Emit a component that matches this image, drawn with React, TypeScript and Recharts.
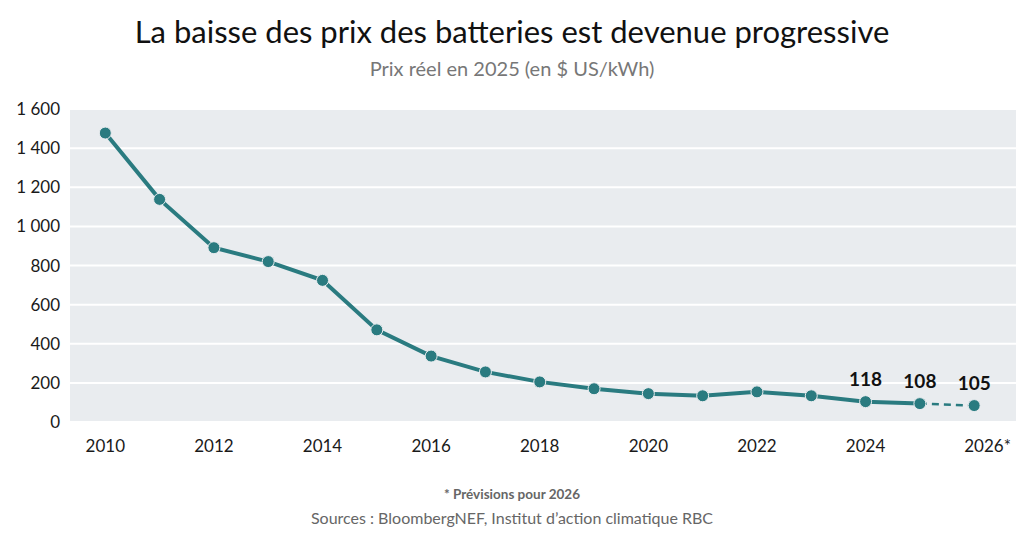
import { LineChart, Line, XAxis, YAxis, CartesianGrid, LabelList } from 'recharts';

const years = [2010, 2011, 2012, 2013, 2014, 2015, 2016, 2017, 2018, 2019, 2020, 2021, 2022, 2023, 2024, 2025, 2026];
// prix réel en $ US/kWh (2026 = prévision)
const prices = [1477, 1138, 891, 820, 724, 471, 337, 256, 205, 170, 145, 134, 154, 134, 104, 94, 84];
const forecastYear = 2026;
const pointLabels: Record<number, string> = { 2024: '118', 2025: '108', 2026: '105' };
const xTicks = [2010, 2012, 2014, 2016, 2018, 2020, 2022, 2024, 2026];
const yTicks = [0, 200, 400, 600, 800, 1000, 1200, 1400, 1600];

const TEAL = '#2a7b80';
const FONT = 'Lato, "Open Sans", sans-serif';

const data = years.map((year, i) => ({
  year,
  actual: year < forecastYear ? prices[i] : null,
  forecast: year >= forecastYear - 1 ? prices[i] : null,
  labelActual: year < forecastYear ? pointLabels[year] ?? '' : '',
  labelForecast: year === forecastYear ? pointLabels[year] ?? '' : '',
}));

const fmtThousands = (v: number) => (v >= 1000 ? `${Math.floor(v / 1000)} ${String(v % 1000).padStart(3, '0')}` : String(v));

function XTick(props: any) {
  const { x, y, payload } = props;
  const isForecast = payload.value === forecastYear;
  return (
    <text
      x={isForecast ? x - 10 : x}
      y={y}
      dy="0.71em"
      textAnchor={isForecast ? 'start' : 'middle'}
      fill="#1a1a1a"
      fontSize={17}
      fontFamily={FONT}
    >
      {payload.value}
      {isForecast ? '*' : ''}
    </text>
  );
}

function PointLabel(props: any) {
  const { x, y, value } = props;
  if (!value || x == null || y == null) return null;
  return (
    <text x={x} y={y - 16} textAnchor="middle" fill="#111" fontSize={19} fontWeight={700} fontFamily={FONT}>
      {value}
    </text>
  );
}

function SolidDot(props: any) {
  const { cx, cy, payload } = props;
  if (cx == null || cy == null || payload.actual == null) return null;
  return <circle key={`d-${payload.year}`} cx={cx} cy={cy} r={6} fill={TEAL} stroke="#e9ecef" strokeWidth={1} />;
}

function ForecastDot(props: any) {
  const { cx, cy, payload } = props;
  if (cx == null || cy == null || payload.year !== forecastYear) return null;
  return <circle key={`f-${payload.year}`} cx={cx} cy={cy} r={6} fill={TEAL} stroke="#e9ecef" strokeWidth={1} />;
}

export default function App() {
  return (
    <div style={{ position: 'absolute', left: 0, top: 0, width: 1024, height: 534, background: '#fff', fontFamily: FONT }}>
      <div style={{ position: 'absolute', top: 12, width: 1024, textAlign: 'center', fontSize: 31, color: '#111' }}>
        La baisse des prix des batteries est devenue progressive
      </div>
      <div style={{ position: 'absolute', top: 56, width: 1024, textAlign: 'center', fontSize: 20, color: '#777' }}>
        Prix réel en 2025 (en $ US/kWh)
      </div>
      <LineChart width={1024} height={534} data={data} margin={{ top: 109, right: 8, bottom: 82, left: 10 }}>
        <CartesianGrid vertical={false} fill="#e9ecef" stroke="#ffffff" strokeWidth={2} />
        <XAxis
          dataKey="year"
          type="number"
          domain={[2009.35, 2026.77]}
          ticks={xTicks}
          tick={<XTick />}
          axisLine={false}
          tickLine={false}
          tickSize={0}
          tickMargin={18}
          height={30}
          allowDataOverflow
        />
        <YAxis
          domain={[0, 1600]}
          ticks={yTicks}
          tickFormatter={fmtThousands}
          axisLine={false}
          tickLine={false}
          tickSize={0}
          tickMargin={10}
          width={60}
          tick={{ fill: '#1a1a1a', fontSize: 17, fontFamily: FONT }}
        />
        <Line
          dataKey="actual"
          stroke={TEAL}
          strokeWidth={4}
          dot={<SolidDot />}
          activeDot={false}
          connectNulls={false}
          isAnimationActive={false}
        >
          <LabelList dataKey="labelActual" content={<PointLabel />} />
        </Line>
        <Line
          dataKey="forecast"
          stroke={TEAL}
          strokeWidth={2.5}
          strokeDasharray="7 5"
          dot={<ForecastDot />}
          activeDot={false}
          isAnimationActive={false}
        >
          <LabelList dataKey="labelForecast" content={<PointLabel />} />
        </Line>
      </LineChart>
      <div style={{ position: 'absolute', top: 486, width: 1024, textAlign: 'center', fontSize: 13.5, fontWeight: 700, color: '#666' }}>
        * Prévisions pour 2026
      </div>
      <div style={{ position: 'absolute', top: 508, width: 1024, textAlign: 'center', fontSize: 16, color: '#666' }}>
        Sources : BloombergNEF, Institut d’action climatique RBC
      </div>
    </div>
  );
}
